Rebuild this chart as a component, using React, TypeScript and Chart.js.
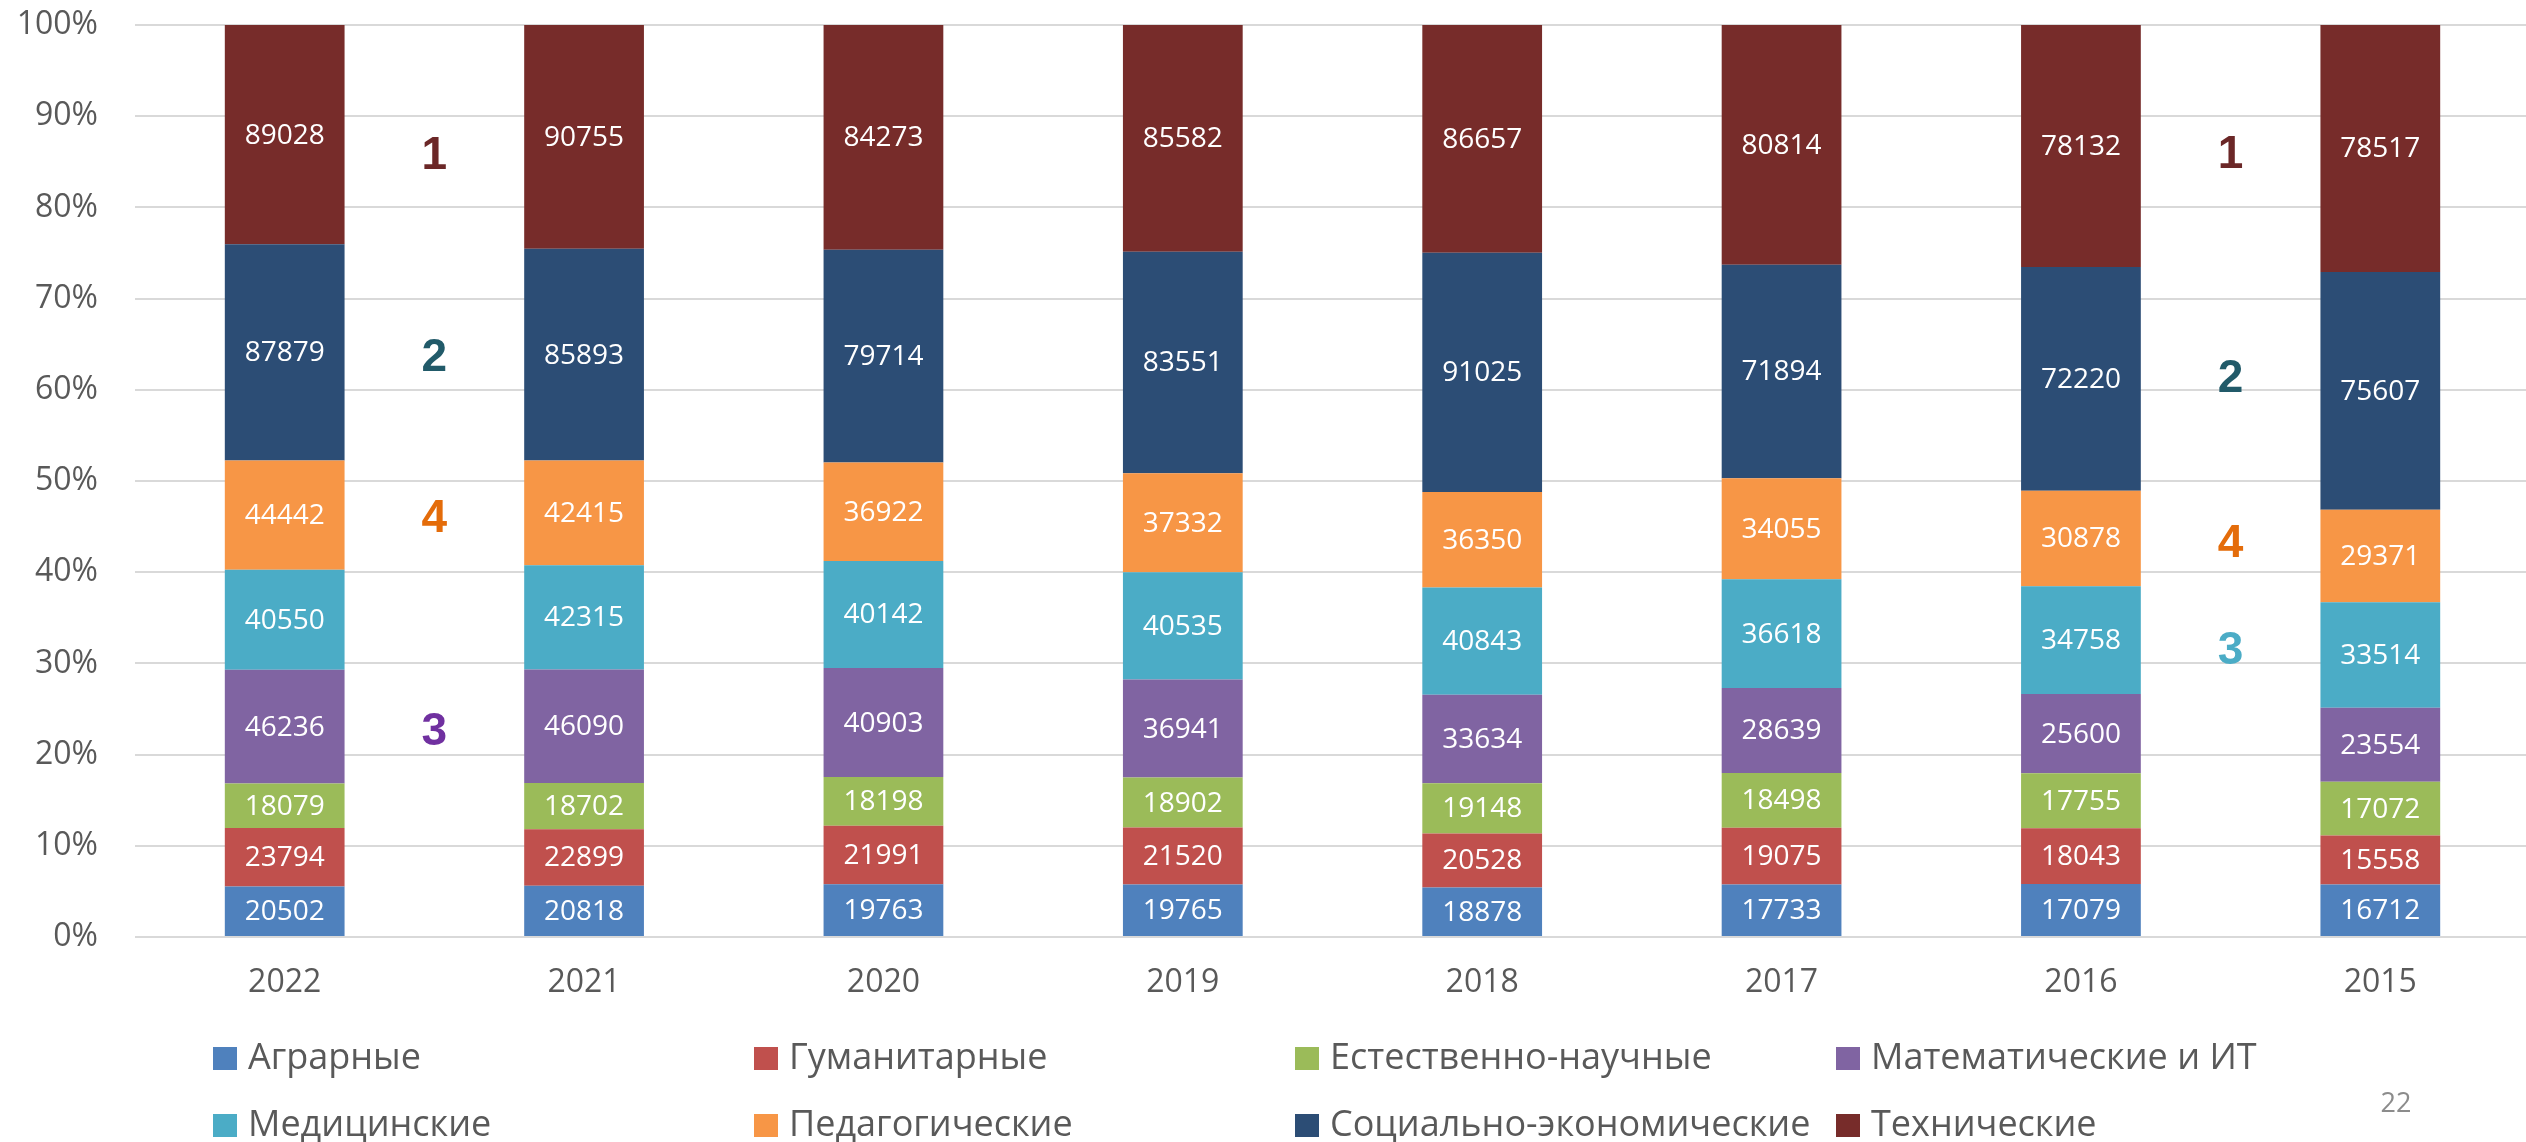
import React, { useEffect, useRef } from "react";
import { Chart, registerables } from "chart.js";

Chart.register(...registerables);

const categories = ["2022", "2021", "2020", "2019", "2018", "2017", "2016", "2015"];

const seriesNames = [
  "Аграрные",
  "Гуманитарные",
  "Естественно-научные",
  "Математические и ИТ",
  "Медицинские",
  "Педагогические",
  "Социально-экономические",
  "Технические",
];

const agrarian = [20502, 20818, 19763, 19765, 18878, 17733, 17079, 16712];
const humanitarian = [23794, 22899, 21991, 21520, 20528, 19075, 18043, 15558];
const natural = [18079, 18702, 18198, 18902, 19148, 18498, 17755, 17072];
const mathIT = [46236, 46090, 40903, 36941, 33634, 28639, 25600, 23554];
const medical = [40550, 42315, 40142, 40535, 40843, 36618, 34758, 33514];
const pedagogical = [44442, 42415, 36922, 37332, 36350, 34055, 30878, 29371];
const socioEconomic = [87879, 85893, 79714, 83551, 91025, 71894, 72220, 75607];
const technical = [89028, 90755, 84273, 85582, 86657, 80814, 78132, 78517];

const seriesValues = [agrarian, humanitarian, natural, mathIT, medical, pedagogical, socioEconomic, technical];

const seriesColors = ["#4F81BD", "#C0504D", "#9BBB59", "#8064A2", "#4BACC6", "#F79646", "#2C4D75", "#772C2A"];

// Rank annotations (text placed between bars, in category-index / percent coordinates)
const annotationTexts = ["1", "2", "4", "3", "1", "2", "4", "3"];
const annotationX = [0.5, 0.5, 0.5, 0.5, 6.5, 6.5, 6.5, 6.5];
const annotationY = [85.6, 63.5, 45.8, 22.4, 85.7, 61.2, 43.1, 31.3];
const annotationColors = ["#6B2727", "#215A69", "#E46C0A", "#7030A0", "#6B2727", "#215A69", "#E46C0A", "#4BACC6"];

const pageNumber = "22";

const totals = categories.map((_, i) => seriesValues.reduce((s, arr) => s + arr[i], 0));

const FONT = "'Open Sans', 'Noto Sans', sans-serif";
const W = 2532;
const H = 1142;

const barLabelsPlugin = {
  id: "barLabels",
  afterDatasetsDraw(chart: any) {
    const ctx = chart.ctx;
    ctx.save();
    ctx.fillStyle = "#FFFFFF";
    ctx.font = `28px ${FONT}`;
    ctx.textAlign = "center";
    ctx.textBaseline = "middle";
    chart.data.datasets.forEach((ds: any, di: number) => {
      const meta = chart.getDatasetMeta(di);
      meta.data.forEach((bar: any, i: number) => {
        const y = (bar.y + bar.base) / 2;
        ctx.fillText(String(ds.rawValues[i]), bar.x, y + 1);
      });
    });
    ctx.restore();
  },
};

const annotationsPlugin = {
  id: "rankAnnotations",
  afterDraw(chart: any) {
    const ctx = chart.ctx;
    const xs = chart.scales.x;
    const ys = chart.scales.y;
    ctx.save();
    ctx.font = `bold 46px 'Liberation Sans', Arial, sans-serif`;
    ctx.textAlign = "center";
    ctx.textBaseline = "middle";
    annotationTexts.forEach((t, i) => {
      ctx.fillStyle = annotationColors[i];
      ctx.fillText(t, xs.getPixelForValue(annotationX[i]), ys.getPixelForValue(annotationY[i]));
    });
    ctx.restore();
  },
};

const legendPlugin = {
  id: "gridLegend",
  afterDraw(chart: any) {
    const ctx = chart.ctx;
    const colX = [213, 754, 1295, 1836];
    const rowY = [1058, 1125];
    ctx.save();
    ctx.font = `36px ${FONT}`;
    ctx.textAlign = "left";
    ctx.textBaseline = "middle";
    seriesNames.forEach((name, i) => {
      const cx = colX[i % 4];
      const cy = rowY[Math.floor(i / 4)];
      ctx.fillStyle = seriesColors[i];
      ctx.fillRect(cx, cy - 11, 24, 23);
      ctx.fillStyle = "#595959";
      ctx.fillText(name, cx + 35, cy + 1);
    });
    ctx.font = `27px ${FONT}`;
    ctx.fillStyle = "#8C8C8C";
    ctx.textAlign = "center";
    ctx.fillText(pageNumber, 2396, 1104);
    ctx.restore();
  },
};

export default function App() {
  const canvasRef = useRef<HTMLCanvasElement | null>(null);

  useEffect(() => {
    const canvas = canvasRef.current;
    if (!canvas) return;
    Chart.defaults.font.family = FONT;
    const chart = new Chart(canvas, {
      type: "bar",
      data: {
        labels: categories,
        datasets: seriesNames.map((name, si) => ({
          label: name,
          data: seriesValues[si].map((v, i) => (v / totals[i]) * 100),
          rawValues: seriesValues[si],
          backgroundColor: seriesColors[si],
          borderWidth: 0,
          categoryPercentage: 1,
          barPercentage: 0.4,
        })) as any,
      },
      options: {
        responsive: false,
        animation: false,
        devicePixelRatio: 1,
        layout: { padding: { top: 25, right: 2, left: 0, bottom: 0 } },
        plugins: {
          legend: { display: false },
          tooltip: { enabled: false },
        },
        scales: {
          x: {
            stacked: true,
            grid: { display: false, drawTicks: false },
            border: { display: false },
            ticks: { color: "#595959", font: { size: 32, family: FONT }, padding: 27 },
            afterFit: (s: any) => {
              s.height = 205;
            },
          },
          y: {
            stacked: true,
            min: 0,
            max: 100,
            grid: { color: "#D9D9D9", lineWidth: 2, drawTicks: true, tickLength: 33, tickColor: "rgba(0,0,0,0)" },
            border: { display: false },
            ticks: {
              stepSize: 10,
              color: "#595959",
              font: { size: 32, family: FONT },
              padding: 4,
              callback: (v: any) => `${v}%`,
            },
            afterFit: (s: any) => {
              s.width = 135;
            },
          },
        },
      } as any,
      plugins: [barLabelsPlugin, annotationsPlugin, legendPlugin],
    });
    return () => chart.destroy();
  }, []);

  return (
    <div
      style={{
        position: "fixed",
        left: 0,
        top: 0,
        width: 2526,
        height: H,
        overflow: "hidden",
        background: "#FFFFFF",
      }}
    >
      <canvas ref={canvasRef} width={W} height={H} style={{ display: "block", width: W, height: H }} />
    </div>
  );
}
